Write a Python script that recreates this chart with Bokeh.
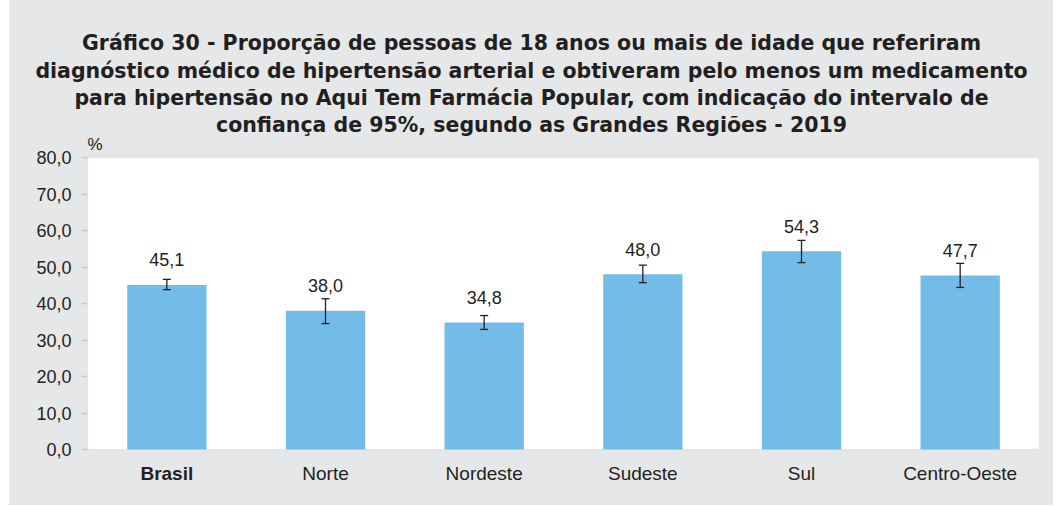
from bokeh.plotting import figure
from bokeh.models import (ColumnDataSource, Whisker, LabelSet, Label, FixedTicker,
                          FactorRange, Range1d, TeeHead, Spacer, BoxAnnotation)
from bokeh.layouts import column, row
from bokeh.core.properties import value
from bokeh.embed import file_html
from bokeh.resources import INLINE

categories = ["Brasil", "Norte", "Nordeste", "Sudeste", "Sul", "Centro-Oeste"]
values = [45.1, 38.0, 34.8, 48.0, 54.3, 47.7]
ci_lower = [43.8, 34.5, 32.9, 45.7, 51.2, 44.4]
ci_upper = [46.6, 41.3, 36.7, 50.5, 57.3, 51.0]
y_ticks = [0, 10, 20, 30, 40, 50, 60, 70, 80]
y_tick_labels = ["0,0", "10,0", "20,0", "30,0", "40,0", "50,0", "60,0", "70,0", "80,0"]
title_lines = [
    "Gráfico 30 - Proporção de pessoas de 18 anos ou mais de idade que referiram",
    "diagnóstico médico de hipertensão arterial e obtiveram pelo menos um medicamento",
    "para hipertensão no Aqui Tem Farmácia Popular, com indicação do intervalo de",
    "confiança de 95%, segundo as Grandes Regiões - 2019",
]
unit_label = "%"

BG = "#e6e7e8"
BAR = "#74bce8"
TXT = "#231f20"
AX = "#c8c9ca"
FONT = "Liberation Sans"
TFONT = "DejaVu Sans"
TSIZE = "20.5px"

FIG_W = 1044
FRAME_LEFT = 83          # page x of main frame's left edge
FRAME_TOP = 111          # page y of main frame's top edge
TITLE_H = FRAME_TOP - 13
MAIN_H = 505 - FRAME_TOP
PX_PER_UNIT = 292 / 80.0
Y_START = -(505 - 449) / PX_PER_UNIT
Y_END = 80 + (157 - FRAME_TOP) / PX_PER_UNIT
SHIFT = 6                # text baseline correction, px

# ---------- title figure (first three lines) ----------
tsrc = ColumnDataSource(dict(
    line=title_lines[:3],
    x=[522] * 3,
    y=[FRAME_TOP - 48 + SHIFT, FRAME_TOP - 76 + SHIFT, FRAME_TOP - 103 + SHIFT],
))
tp = figure(width=FIG_W, height=TITLE_H, x_range=Range1d(0, FIG_W), y_range=Range1d(0, TITLE_H),
            output_backend="svg", toolbar_location=None,
            x_axis_location=None, y_axis_location=None, min_border=0)
tp.frame_align = False
tp.title.visible = False
tp.outline_line_color = None
tp.background_fill_color = BG
tp.border_fill_color = BG
tp.xgrid.grid_line_color = None
tp.ygrid.grid_line_color = None
tp.text(x="x", y="y", text="line", source=tsrc, text_align="center",
        text_baseline="alphabetic", text_font=value(TFONT), text_font_size=TSIZE,
        text_font_style="bold", text_color=TXT)

# ---------- main figure ----------
src = ColumnDataSource(dict(
    cat=categories, val=values, lower=ci_lower, upper=ci_upper,
    lbl=[f"{v:.1f}".replace(".", ",") for v in values],
    zero=[0] * len(categories),
))
bold_src = ColumnDataSource(dict(cat=categories[:1], zero=[0]))
norm_src = ColumnDataSource(dict(cat=categories[1:], zero=[0] * (len(categories) - 1)))

PAD = 0.0252
p = figure(x_range=FactorRange(*categories, range_padding=PAD, range_padding_units="absolute"),
           y_range=Range1d(Y_START, Y_END),
           width=FIG_W, height=MAIN_H, output_backend="svg", toolbar_location=None,
           min_border_left=FRAME_LEFT - 9, min_border_right=10, min_border_top=0, min_border_bottom=0)
p.frame_align = False
p.title.visible = False
p.background_fill_color = BG
p.border_fill_color = BG
p.outline_line_color = None
p.xgrid.grid_line_color = None
p.ygrid.grid_line_color = None
p.xaxis.visible = False

p.add_layout(BoxAnnotation(left=0, right=len(categories), bottom=y_ticks[0], top=y_ticks[-1],
                           fill_color="white", fill_alpha=1, line_color=AX, line_width=1.5,
                           level="underlay"))

ya = p.yaxis[0]
ya.ticker = FixedTicker(ticks=y_ticks)
ya.bounds = (y_ticks[0], y_ticks[-1])
ya.major_label_overrides = {t: l for t, l in zip(y_ticks, y_tick_labels)}
ya.axis_line_color = None
ya.major_tick_line_color = AX
ya.major_tick_line_width = 1.5
ya.major_tick_out = 2
ya.major_tick_in = 4
ya.minor_tick_line_color = None
ya.major_label_standoff = 10
ya.major_label_text_font = FONT
ya.major_label_text_font_size = "18px"
ya.major_label_text_color = TXT

p.vbar(x="cat", top="val", width=0.5, source=src, fill_color=BAR, line_color=None)

w = Whisker(base="cat", upper="upper", lower="lower", source=src,
            line_color=TXT, line_width=1.3, level="annotation",
            upper_head=TeeHead(size=8, line_color=TXT, line_width=1.3),
            lower_head=TeeHead(size=8, line_color=TXT, line_width=1.3))
p.add_layout(w)

p.add_layout(LabelSet(x="cat", y="val", text="lbl", source=src, y_offset=18.6,
                      text_align="center", text_baseline="alphabetic",
                      text_font=value(FONT), text_font_size="18px", text_color=TXT))

p.add_layout(LabelSet(x="cat", y="zero", text="cat", source=bold_src, y_offset=-30,
                      text_align="center", text_baseline="alphabetic",
                      text_font=value(FONT), text_font_size="19px", text_font_style="bold",
                      text_color=TXT))
p.add_layout(LabelSet(x="cat", y="zero", text="cat", source=norm_src, y_offset=-30,
                      text_align="center", text_baseline="alphabetic",
                      text_font=value(FONT), text_font_size="19px", text_color=TXT))

# "%" unit above the axis
p.add_layout(Label(x=0, y=y_ticks[-1], x_units="data", y_units="data", text=unit_label,
                   y_offset=7 + SHIFT, text_align="left", text_baseline="alphabetic",
                   text_font=FONT, text_font_size="17px", text_color=TXT))

# fourth title line (inside main figure area)
px_per_cat = (1039 - 87) / len(categories)
p.add_layout(Label(x=(531 - 87) / px_per_cat, y=y_ticks[-1], x_units="data", y_units="data",
                   text=title_lines[3], y_offset=(157 - 130) + SHIFT,
                   text_align="center", text_baseline="alphabetic",
                   text_font=TFONT, text_font_size=TSIZE, text_font_style="bold",
                   text_color=TXT))

layout = row(Spacer(width=9, height=505),
             column(Spacer(width=FIG_W, height=13), tp, p, styles={"background-color": BG}))
open("out.html", "w").write(file_html(layout, INLINE))
